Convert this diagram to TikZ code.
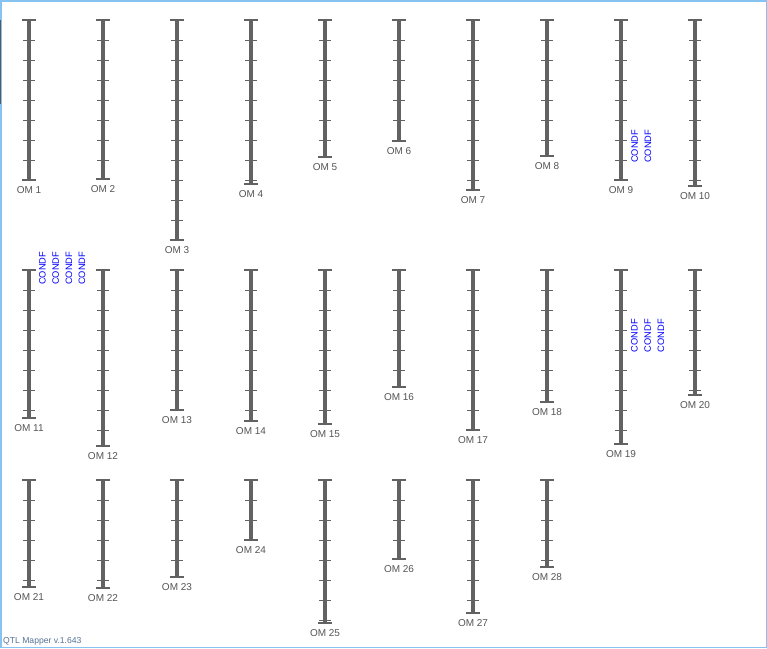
\documentclass[tikz,border=0pt]{standalone}
\usepackage{fontspec}
\setmainfont{Liberation Sans}
\definecolor{barc}{RGB}{98,98,98}
\definecolor{labc}{RGB}{85,85,85}
\definecolor{framec}{RGB}{135,195,240}
\definecolor{verc}{RGB}{85,115,150}
\tikzset{
  barline/.style={draw=barc,line width=4.6pt},
  capline/.style={draw=barc,line width=1.4pt},
  tickline/.style={draw=barc,line width=0.9pt},
  chromlab/.style={text=labc,font=\fontsize{10}{10}\selectfont,inner sep=0pt,anchor=base},
  condf/.style={text=blue,font=\fontsize{9.3}{9.3}\selectfont,inner sep=0pt,rotate=90,anchor=base west}
}
\newcommand\chromo[4]{%
  \draw[barline] (#1,#2) -- (#1,#3);
  \draw[capline] (#1-7,#2) -- (#1+7,#2);
  \draw[capline] (#1-7,#3) -- (#1+7,#3);
  \pgfmathtruncatemacro\nticks{floor((#3-#2-1)/20)}%
  \foreach \k in {1,...,\nticks}{\draw[tickline] (#1-6,#2+20*\k) -- (#1+6,#2+20*\k);}
  \node[chromlab] (om#4) at (#1,#3+13.5) {OM #4};
}
\begin{document}
\begin{tikzpicture}[x=1pt,y=-1pt]
\useasboundingbox (0,0) rectangle (767,648);
\fill[white] (0,0) rectangle (767,648);
\draw[framec,line width=1.5pt] (0.75,0.75) rectangle (766.25,647.25);
\draw[black!65,line width=1.2pt] (0.6,20) -- (0.6,104);
% row 1
\chromo{29}{20}{180}{1}
\chromo{103}{20}{179}{2}
\chromo{177}{20}{240}{3}
\chromo{251}{20}{184}{4}
\chromo{325}{20}{157}{5}
\chromo{399}{20}{141}{6}
\chromo{473}{20}{190}{7}
\chromo{547}{20}{156}{8}
\chromo{621}{20}{180}{9}
\chromo{695}{20}{186}{10}
% row 2
\chromo{29}{270}{418}{11}
\chromo{103}{270}{446}{12}
\chromo{177}{270}{410}{13}
\chromo{251}{270}{421}{14}
\chromo{325}{270}{424}{15}
\chromo{399}{270}{387}{16}
\chromo{473}{270}{430}{17}
\chromo{547}{270}{402}{18}
\chromo{621}{270}{444}{19}
\chromo{695}{270}{395}{20}
% row 3
\chromo{29}{480}{587}{21}
\chromo{103}{480}{588}{22}
\chromo{177}{480}{577}{23}
\chromo{251}{480}{540}{24}
\chromo{325}{480}{623}{25}
\chromo{399}{480}{559}{26}
\chromo{473}{480}{613}{27}
\chromo{547}{480}{567}{28}
% CONDF labels
\node[condf] (c9a) at (637.9,163) {CONDF};
\node[condf] (c9b) at (651.1,163) {CONDF};
\node[condf] (c11a) at (45.6,285) {CONDF};
\node[condf] (c11b) at (58.8,285) {CONDF};
\node[condf] (c11c) at (72.0,285) {CONDF};
\node[condf] (c11d) at (85.2,285) {CONDF};
\node[condf] (c19a) at (637.6,352.5) {CONDF};
\node[condf] (c19b) at (650.8,352.5) {CONDF};
\node[condf] (c19c) at (664.0,352.5) {CONDF};
% version
\node[text=verc,font=\fontsize{8.6}{8.6}\selectfont,inner sep=0pt,anchor=base west] (ver) at (3,643.5) {QTL Mapper v.1.643};
\end{tikzpicture}
\end{document}
